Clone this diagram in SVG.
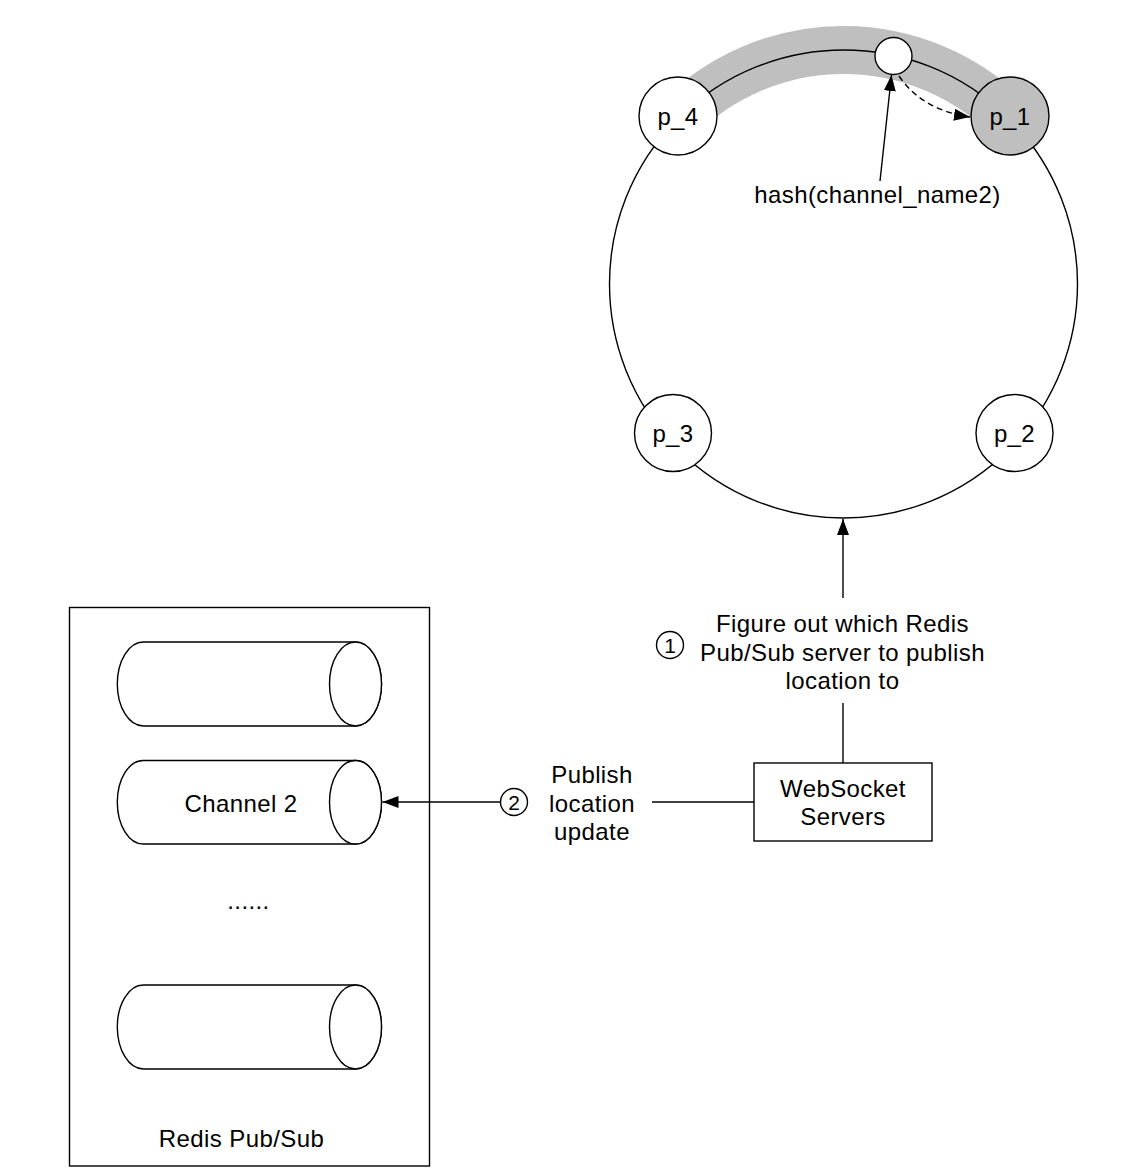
<svg xmlns="http://www.w3.org/2000/svg" width="1144" height="1175" viewBox="0 0 1144 1175">
<style>
.ln{fill:none;stroke:#000;stroke-width:1.4}
.nd{fill:#fff;stroke:#000;stroke-width:1.4}
.t{font-family:"Liberation Sans",Arial,Helvetica,sans-serif;font-size:24px;fill:#000;text-anchor:middle;letter-spacing:0.4px}
.s{font-family:"Liberation Sans",Arial,Helvetica,sans-serif;font-size:21px;fill:#000;text-anchor:middle}
</style>
<defs>
<marker id="ah" markerUnits="userSpaceOnUse" markerWidth="18" markerHeight="12" refX="16" refY="6" orient="auto">
<path d="M0,0 L16,6 L0,12 Z" fill="#000"/>
</marker>
</defs>
<rect width="1144" height="1175" fill="#fff"/>

<g id="ring">
<path d="M678,118.5 A234,234 0 0 1 1009,118.5" fill="none" stroke="#bfbfbf" stroke-width="48"/>
<circle cx="843.5" cy="284" r="234" class="ln"/>
</g>

<g id="hashpoint"><circle cx="893.5" cy="56" r="18.5" class="nd"/></g>
<g id="p_4"><circle cx="678" cy="116" r="39" class="nd"/><text x="678" y="124.5" class="t">p_4</text></g>
<g id="p_1"><circle cx="1010" cy="116" r="39" class="nd" style="fill:#bfbfbf"/><text x="1010" y="124.5" class="t">p_1</text></g>
<g id="p_3"><circle cx="673" cy="433" r="38.5" class="nd"/><text x="673" y="441.5" class="t">p_3</text></g>
<g id="p_2"><circle cx="1014.5" cy="433" r="38.5" class="nd"/><text x="1014.5" y="441.5" class="t">p_2</text></g>

<g id="hash-label"><text x="877.5" y="203" class="t">hash(channel_name2)</text></g>

<g id="step1">
<circle cx="670" cy="645" r="13.5" class="nd"/><text x="670" y="652.5" class="s">1</text>
<text x="842.5" y="632" class="t">Figure out which Redis</text>
<text x="842.5" y="660.5" class="t">Pub/Sub server to publish</text>
<text x="842.5" y="689" class="t">location to</text>
</g>

<g id="websocket">
<rect x="754" y="763" width="178" height="78" class="nd"/>
<text x="843" y="797" class="t">WebSocket</text>
<text x="843" y="825" class="t">Servers</text>
</g>

<g id="redis">
<rect x="69.5" y="607.5" width="360" height="558.5" class="nd"/>
<text x="241.5" y="1146.5" class="t">Redis Pub/Sub</text>
<text x="248.5" y="909" class="t">......</text>
</g>

<g id="cyl1">
<path d="M143.3,642 L355.5,642 A26,42 0 0 1 355.5,726 L143.3,726 A26,42 0 0 1 143.3,642 Z" class="nd"/>
<ellipse cx="355.5" cy="684" rx="26" ry="42" class="nd"/>
</g>
<g id="cyl2">
<path d="M143.3,760.5 L355.5,760.5 A26,41.75 0 0 1 355.5,844 L143.3,844 A26,41.75 0 0 1 143.3,760.5 Z" class="nd"/>
<ellipse cx="355.5" cy="802.25" rx="26" ry="41.75" class="nd"/>
<text x="241" y="811.5" class="t">Channel 2</text>
</g>
<g id="cyl3">
<path d="M143.3,985 L355.5,985 A26,42 0 0 1 355.5,1069 L143.3,1069 A26,42 0 0 1 143.3,985 Z" class="nd"/>
<ellipse cx="355.5" cy="1027" rx="26" ry="42" class="nd"/>
</g>

<g id="connectors">
<line x1="880" y1="181" x2="891.5" y2="75" class="ln" marker-end="url(#ah)"/>
<path d="M899,76 Q922,110 970,117" class="ln" stroke-dasharray="6,4" marker-end="url(#ah)"/>
<line x1="843" y1="598" x2="843" y2="519" class="ln" marker-end="url(#ah)"/>
<line x1="843" y1="703" x2="843" y2="763" class="ln"/>
<line x1="754" y1="802" x2="652" y2="802" class="ln"/>
<line x1="500.5" y1="802" x2="382.5" y2="802" class="ln" marker-end="url(#ah)"/>
</g>

<g id="step2">
<circle cx="514" cy="802" r="13.5" class="nd"/><text x="514" y="809.5" class="s">2</text>
<text x="592" y="783" class="t">Publish</text>
<text x="592" y="811.5" class="t">location</text>
<text x="592" y="840" class="t">update</text>
</g>
</svg>
